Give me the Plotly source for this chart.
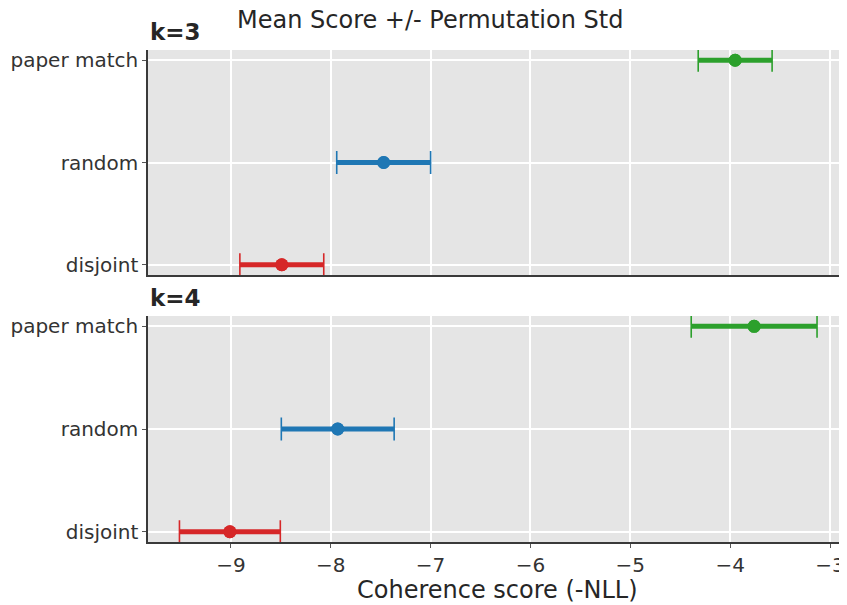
import plotly.graph_objects as go

categories = ["paper match", "random", "disjoint"]
colors = ["#2ca02c", "#1f77b4", "#d62728"]
k3_mean = [-3.95, -7.47, -8.49]
k3_std = [0.37, 0.47, 0.42]
k4_mean = [-3.76, -7.93, -9.01]
k4_std = [0.63, 0.565, 0.505]
x_ticks = [-9, -8, -7, -6, -5, -4, -3]
x_tick_labels = ["−9", "−8", "−7", "−6", "−5", "−4", "−3"]

fig = go.Figure()
panels = [(k3_mean, k3_std, "x", "y"), (k4_mean, k4_std, "x2", "y2")]
for means, stds, xa, ya in panels:
    for cat, m, s, c in zip(categories, means, stds, colors):
        fig.add_trace(go.Scatter(
            x=[m], y=[cat], xaxis=xa, yaxis=ya, mode="markers",
            marker=dict(color=c, size=13),
            error_x=dict(type="data", array=[s], color=c, thickness=5, width=0),
            showlegend=False, hoverinfo="skip"))
        fig.add_trace(go.Scatter(
            x=[m], y=[cat], xaxis=xa, yaxis=ya, mode="markers",
            marker=dict(color=c, size=13),
            error_x=dict(type="data", array=[s], color=c, thickness=1.6, width=11.5),
            showlegend=False, hoverinfo="skip"))

font_family = "DejaVu Sans"
axis_common = dict(
    showgrid=True, gridcolor="white", gridwidth=1.5,
    showline=True, linecolor="#3a3a3a", linewidth=1.5,
    ticks="outside", ticklen=4, tickcolor="#555555", tickwidth=1,
    zeroline=False, automargin=False,
    tickfont=dict(size=20, color="#333333", family=font_family),
)
yaxis_common = dict(axis_common, type="category",
                    categoryorder="array", categoryarray=categories[::-1],
                    range=[-0.1, 2.1])
xaxis_common = dict(axis_common, range=[-9.83, -2.83],
                    tickvals=x_ticks, ticktext=x_tick_labels)

fig.update_layout(
    width=839, height=597,
    margin=dict(l=140, r=0, t=42, b=63),
    paper_bgcolor="white", plot_bgcolor="#e5e5e5",
    font=dict(family=font_family, color="#262626"),
    xaxis=dict(xaxis_common, anchor="y", matches="x2", showticklabels=False, ticks=""),
    yaxis=dict(yaxis_common, domain=[0.5427, 1.0], anchor="x"),
    xaxis2=dict(xaxis_common, anchor="y2"),
    yaxis2=dict(yaxis_common, domain=[0.0, 0.4593], anchor="x2"),
    annotations=[
        dict(text="Mean Score +/- Permutation Std", xref="paper", yref="paper",
             x=0.4034, y=1.061, xanchor="center", yanchor="middle", showarrow=False,
             font=dict(size=24, color="#262626", family=font_family)),
        dict(text="<b>k=3</b>", xref="paper", yref="paper", x=0, y=1.0366,
             xanchor="left", yanchor="middle", showarrow=False,
             font=dict(size=23, color="#262626", family=font_family)),
        dict(text="<b>k=4</b>", xref="paper", yref="paper", x=0, y=0.496,
             xanchor="left", yanchor="middle", showarrow=False,
             font=dict(size=23, color="#262626", family=font_family)),
        dict(text="Coherence score (-NLL)", xref="paper", yref="paper",
             x=0.5, y=-0.0976, xanchor="center", yanchor="middle", showarrow=False,
             font=dict(size=24, color="#262626", family=font_family)),
    ],
)

fig.write_html("out.html")
